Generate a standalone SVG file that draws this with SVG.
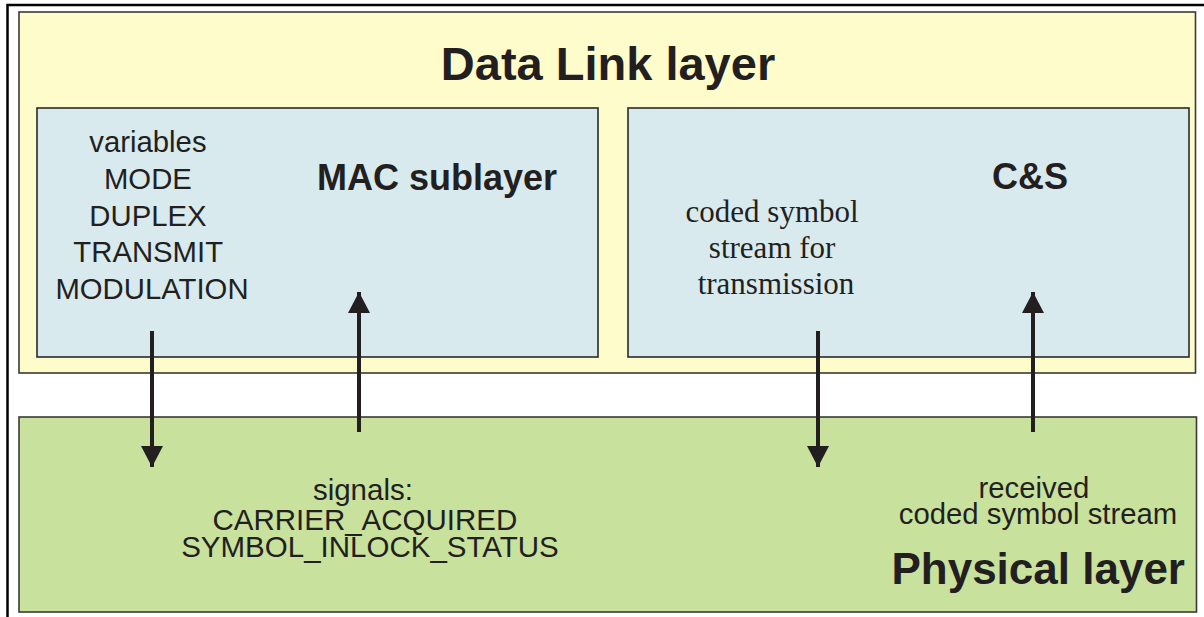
<svg xmlns="http://www.w3.org/2000/svg" width="1204" height="617" viewBox="0 0 1204 617">
<style>
  .frame{fill:none;stroke:#000;stroke-width:2.5}
  .layer{stroke:#3a3a35;stroke-width:1.6}
  .dl{fill:#fffccb}
  .sub{fill:#d8eaed;stroke:#2a2a2a;stroke-width:1.6}
  .phy{fill:#c8e29d}
  .t{font-family:"Liberation Sans",Arial,sans-serif;fill:#231f20;text-anchor:middle}
  .b{font-weight:bold}
  .s{font-family:"Liberation Serif","Times New Roman",serif;fill:#231f20;text-anchor:middle}
  .conn{stroke:#231f20;stroke-width:4;fill:none}
</style>
<defs>
  <marker id="ah" markerUnits="userSpaceOnUse" markerWidth="22" markerHeight="22" viewBox="0 0 20 20" refX="19" refY="10" orient="auto">
    <path d="M0,0 L19,10 L0,20 Z" fill="#231f20"/>
  </marker>
</defs>
<rect width="1204" height="617" fill="#fff"/>
<rect class="frame" x="7.5" y="5" width="1210" height="630"/>
<g id="data-link-layer">
  <rect class="layer dl" x="19" y="12" width="1176.5" height="361"/>
  <text class="t b" x="608" y="80" font-size="47">Data Link layer</text>
</g>
<g id="mac-sublayer">
  <rect class="sub" x="37" y="108" width="561" height="249"/>
  <text class="t b" x="437" y="190" font-size="36">MAC sublayer</text>
  <text class="t" font-size="29.3">
    <tspan x="152" y="152">variables</tspan>
    <tspan x="152" y="189">MODE</tspan>
    <tspan x="152" y="226">DUPLEX</tspan>
    <tspan x="152" y="262">TRANSMIT</tspan>
    <tspan x="152" y="299">MODULATION</tspan>
  </text>
</g>
<g id="cs">
  <rect class="sub" x="628" y="108" width="561" height="249"/>
  <text class="t b" x="1030" y="189" font-size="36">C&amp;S</text>
  <text class="s" font-size="31">
    <tspan x="776" y="222">coded symbol</tspan>
    <tspan x="776" y="258">stream for</tspan>
    <tspan x="776" y="294">transmission</tspan>
  </text>
</g>
<g id="physical-layer">
  <rect class="layer phy" x="19" y="417" width="1177.5" height="195"/>
  <text class="t b" x="1185" y="584" font-size="44" style="text-anchor:end">Physical layer</text>
  <text class="t" font-size="29.5">
    <tspan x="367" y="500">signals:</tspan>
    <tspan x="369" y="530">CARRIER_ACQUIRED</tspan>
    <tspan x="370" y="557">SYMBOL_INLOCK_STATUS</tspan>
  </text>
  <text class="t" font-size="29.3">
    <tspan x="1038" y="498">received</tspan>
    <tspan x="1038" y="524">coded symbol stream</tspan>
  </text>
</g>
<g id="connectors">
  <line class="conn" x1="152" y1="331" x2="152" y2="467" marker-end="url(#ah)"/>
  <line class="conn" x1="359" y1="432" x2="359" y2="292" marker-end="url(#ah)"/>
  <line class="conn" x1="818" y1="331" x2="818" y2="467" marker-end="url(#ah)"/>
  <line class="conn" x1="1033" y1="432" x2="1033" y2="292" marker-end="url(#ah)"/>
</g>
</svg>
